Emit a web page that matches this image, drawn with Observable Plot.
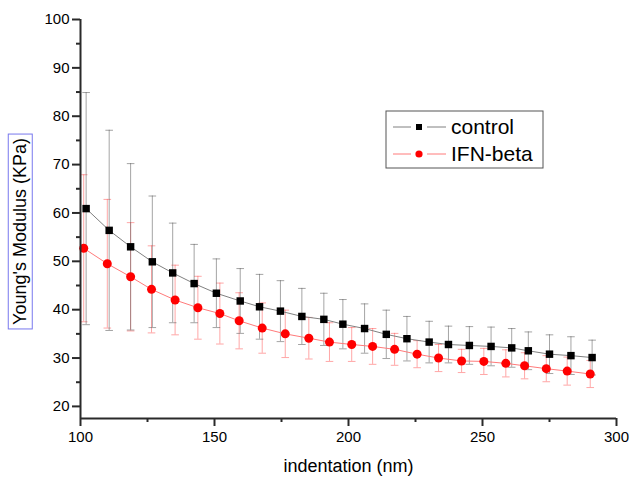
<!DOCTYPE html>
<html>
<head>
<meta charset="utf-8">
<script src="https://cdn.jsdelivr.net/npm/d3@7"></script>
<script src="https://cdn.jsdelivr.net/npm/@observablehq/plot@0.6"></script>
<style>
  html, body { margin: 0; padding: 0; background: #fff; }
  #chart svg { display: block; font-family: "Liberation Sans", Arial, sans-serif; }
</style>
</head>
<body>
<div id="chart"></div>
<script>
// ---- data ----
const controlX = [102.1,110.7,118.7,126.8,134.4,142.4,150.7,159.6,166.8,174.6,182.6,190.8,197.9,206.0,214.1,221.8,230.1,237.3,245.1,253.2,260.9,267.1,275.0,283.0,290.9];
const controlMean = [60.9,56.4,53.0,49.9,47.6,45.4,43.4,41.8,40.6,39.7,38.6,38.0,37.0,36.1,34.9,34.0,33.3,32.8,32.6,32.4,32.1,31.5,30.8,30.5,30.1];
const controlSD = [24.0,20.7,17.2,13.6,10.3,8.1,7.1,6.7,6.7,6.3,5.8,5.4,5.1,5.1,5.0,4.6,4.3,3.8,3.9,4.0,4.0,3.9,4.0,3.9,3.6];

const ifnX = [101.2,110.0,118.7,126.5,135.3,143.8,152.0,159.2,167.8,176.4,185.2,192.9,201.2,209.0,217.2,225.6,233.6,242.2,250.5,258.7,265.7,273.8,281.6,290.2];
const ifnMean = [52.7,49.5,46.8,44.2,42.0,40.4,39.2,37.7,36.2,35.0,34.1,33.3,32.8,32.4,31.8,30.8,30.0,29.4,29.3,28.9,28.4,27.8,27.3,26.7];
const ifnSD = [15.2,13.3,11.2,9.0,7.2,6.5,6.3,5.8,5.2,4.9,4.3,4.0,3.5,3.7,3.3,2.8,2.8,2.4,2.7,2.8,2.7,2.7,2.9,2.8];

const seriesNames = ["control", "IFN-beta"];
const xTicks = [100, 150, 200, 250, 300];
const xMinorTicks = [125, 175, 225, 275];
const yTicks = [20, 30, 40, 50, 60, 70, 80, 90, 100];
const yMinorTicks = [25, 35, 45, 55, 65, 75, 85, 95];
const xLabel = "indentation (nm)";
const yLabel = "Young's Modulus (KPa)";
// ----------------------------------------------

const control = controlX.map((x, i) => ({x, m: controlMean[i], sd: controlSD[i]}));
const ifn = ifnX.map((x, i) => ({x, m: ifnMean[i], sd: ifnSD[i]}));

const capSymbol = {
  draw(ctx, size) {
    const w = Math.sqrt(size / Math.PI);
    ctx.moveTo(-w, 0);
    ctx.lineTo(w, 0);
  }
};

const cGray = "#808080";
const cBar = "rgba(90,90,90,0.55)";
const rLine = "#ff7a7a";
const rBar = "rgba(255,80,80,0.5)";
const axisColor = "#2a2a2a";

const errMarks = (data, color) => [
  Plot.ruleX(data, {x: "x", y1: d => d.m - d.sd, y2: d => d.m + d.sd, stroke: color, strokeWidth: 1}),
  Plot.dot(data, {x: "x", y: d => d.m + d.sd, symbol: capSymbol, r: 3.8, stroke: color, fill: "none", strokeWidth: 1}),
  Plot.dot(data, {x: "x", y: d => d.m - d.sd, symbol: capSymbol, r: 3.8, stroke: color, fill: "none", strokeWidth: 1})
];

const chart = Plot.plot({
  width: 629,
  height: 477,
  marginLeft: 80,
  marginRight: 13,
  marginTop: 19,
  marginBottom: 59,
  style: {fontFamily: "'Liberation Sans', Arial, sans-serif", background: "#fff", color: "#000"},
  x: {domain: [100, 300]},
  y: {domain: [17.5, 100]},
  marks: [
    ...errMarks(ifn, rBar),
    ...errMarks(control, cBar),
    Plot.line(control, {x: "x", y: "m", stroke: cGray, strokeWidth: 1}),
    Plot.line(ifn, {x: "x", y: "m", stroke: rLine, strokeWidth: 1}),
    Plot.dot(control, {x: "x", y: "m", symbol: "square", r: 4.2, fill: "black", stroke: "none"}),
    Plot.dot(ifn, {x: "x", y: "m", symbol: "circle", r: 4.5, fill: "#ff0000", stroke: "none"}),
    // axes
    Plot.axisY({ticks: yTicks, tickSize: 8, tickPadding: 3, fontSize: 15, stroke: axisColor, strokeWidth: 2, strokeOpacity: 1, fill: "#000", label: null}),
    Plot.axisY({ticks: yMinorTicks, tickSize: 4, text: null, stroke: axisColor, strokeWidth: 2, strokeOpacity: 1, label: null}),
    Plot.axisX({ticks: xTicks, tickSize: 8, tickPadding: 5, fontSize: 15, stroke: axisColor, strokeWidth: 2, strokeOpacity: 1, fill: "#000", label: null}),
    Plot.axisX({ticks: xMinorTicks, tickSize: 4, text: null, stroke: axisColor, strokeWidth: 2, strokeOpacity: 1, label: null}),
    Plot.ruleX([100], {stroke: axisColor, strokeWidth: 2}),
    Plot.ruleY([17.5], {stroke: axisColor, strokeWidth: 2}),
    Plot.text([xLabel], {frameAnchor: "bottom", textAnchor: "middle", lineAnchor: "middle", dy: 48, fontSize: 18, fill: "#000"}),
    Plot.text([yLabel], {frameAnchor: "left", textAnchor: "middle", lineAnchor: "middle", rotate: -90, dx: -60, dy: 12.5, fontSize: 18, fill: "#000", className: "ylab"})
  ]
});

document.getElementById("chart").appendChild(chart);

const svg = d3.select(chart);

// box around the y label
const ylabText = chart.querySelector(".ylab text");
if (ylabText) {
  const sr = chart.getBoundingClientRect();
  const r = ylabText.getBoundingClientRect();
  svg.append("rect")
    .attr("x", r.left - sr.left - 2)
    .attr("y", r.top - sr.top - 4)
    .attr("width", r.width + 4)
    .attr("height", r.height + 8)
    .attr("fill", "none")
    .attr("stroke", "#7878ee")
    .attr("stroke-width", 1);
}

// legend
const lg = svg.append("g").attr("text-anchor", "start");
lg.append("rect").attr("x", 386).attr("y", 111).attr("width", 157).attr("height", 57)
  .attr("fill", "#fff").attr("stroke", "#555").attr("stroke-width", 1);
const entries = [
  {name: seriesNames[0], line: cGray, fill: "black", shape: "square"},
  {name: seriesNames[1], line: rLine, fill: "#ff0000", shape: "circle"}
];
entries.forEach((e, i) => {
  const cy = 127 + i * 27;
  [[393, 411], [427, 446]].forEach(([a, b]) => {
    lg.append("line").attr("x1", a).attr("x2", b).attr("y1", cy).attr("y2", cy)
      .attr("stroke", e.line).attr("stroke-width", 1);
  });
  if (e.shape === "square") {
    lg.append("rect").attr("x", 416).attr("y", cy - 3).attr("width", 6).attr("height", 6).attr("fill", e.fill);
  } else {
    lg.append("circle").attr("cx", 419).attr("cy", cy).attr("r", 3.6).attr("fill", e.fill);
  }
  lg.append("text").attr("x", 451).attr("y", cy).attr("dy", "0.35em")
    .attr("text-anchor", "start")
    .attr("font-size", 21).attr("fill", "#000").text(e.name);
});
</script>
</body>
</html>
